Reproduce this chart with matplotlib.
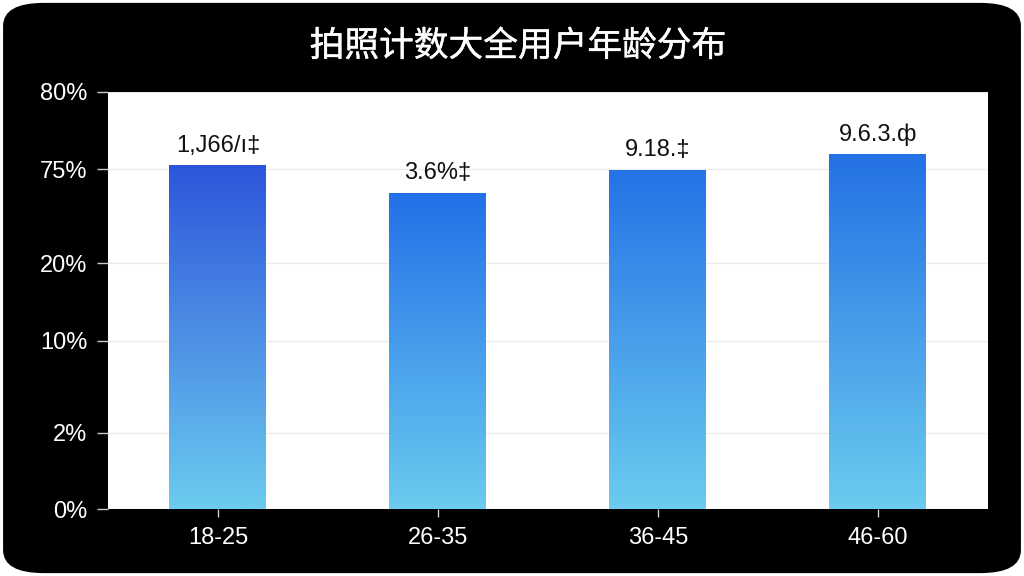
import numpy as np
import matplotlib
matplotlib.use('Agg')
import matplotlib.pyplot as plt
from matplotlib.colors import LinearSegmentedColormap
from matplotlib.patches import FancyBboxPatch
import matplotlib.patheffects as pe
import matplotlib.transforms as mtransforms

plt.rcParams['font.family'] = ['Noto Sans CJK SC', 'DejaVu Sans']

# ---- data ----
title = '拍照计数大全用户年龄分布'
age_groups = ['18-25', '26-35', '36-45', '46-60']
share_pct = [75.3, 61.6, 75.0, 76.0]
bar_labels = ['1,J66/ı‡', '3.6%‡', '9.18.‡', '9.6.3.ф']

# the y axis is not linear: tick values and where they sit (0..80 visual units)
tick_values = [0, 2, 10, 20, 75, 80]
tick_places = [0, 14.6, 32.3, 47.1, 65.2, 80]
tick_text = ['0%', '2%', '10%', '20%', '75%', '80%']

top_colors = ['#2d55db', '#2270e8', '#2472e6', '#2470e4']
bottom_color = '#6ccbef'

num_font = ['Liberation Sans', 'DejaVu Sans']


def forward(v):
    return np.interp(v, tick_values, tick_places)


def inverse(p):
    return np.interp(p, tick_places, tick_values)


fig = plt.figure(figsize=(10.24, 5.76), dpi=100)
fig.patch.set_facecolor('white')

# black panel with rounded corners (behind the axes)
panel = FancyBboxPatch((0.003, 0.005), 0.994, 0.99,
                       boxstyle='round,pad=0,rounding_size=0.04',
                       transform=fig.transFigure, facecolor='black',
                       edgecolor='none', zorder=-10)
fig.patches.append(panel)

ax = fig.add_axes([108 / 1024, 1 - 509 / 576, 880 / 1024, 417 / 576])
ax.set_zorder(1)
ax.set_facecolor('white')
ax.set_yscale('function', functions=(forward, inverse))
ax.set_ylim(0, 80)
ax.set_xlim(-0.5, 3.5)

x = np.arange(len(age_groups))
width = 0.445
bars = ax.bar(x, share_pct, width=width, color='none', zorder=2)

# gradient fill for every bar
blend = mtransforms.blended_transform_factory(ax.transData, ax.transAxes)
grad = np.linspace(0, 1, 256).reshape(-1, 1)
label_shift = mtransforms.ScaledTranslation(0, 8 / 100, fig.dpi_scale_trans)
for i, b in enumerate(bars):
    top_ax = ax.transAxes.inverted().transform(
        ax.transData.transform((0, share_pct[i])))[1]
    cmap = LinearSegmentedColormap.from_list('g%d' % i, [bottom_color, top_colors[i]])
    im = ax.imshow(grad, cmap=cmap, aspect='auto', origin='lower',
                   extent=(x[i] - width / 2, x[i] + width / 2, 0, top_ax),
                   transform=blend, zorder=2)
    im.set_clip_path(b)
    ax.text(x[i], share_pct[i], bar_labels[i],
            transform=ax.transData + label_shift,
            ha='center', va='bottom', fontsize=17, color='#111111',
            family=num_font)

ax.set_xlim(-0.5, 3.5)
ax.set_ylim(0, 80)

ax.set_yticks(tick_values)
ax.set_yticklabels(tick_text)
ax.set_xticks(x)
ax.set_xticklabels(age_groups)
ax.tick_params(axis='y', colors='#cccccc', labelcolor='white', labelsize=17,
               length=8, width=1, pad=7)
ax.tick_params(axis='x', colors='#cccccc', labelcolor='white', labelsize=17,
               length=6, width=1, pad=7)
for lab in ax.get_xticklabels() + ax.get_yticklabels():
    lab.set_family(num_font)

ax.grid(axis='y', color='#ececec', linewidth=1, zorder=0)
ax.set_axisbelow(True)
for s in ax.spines.values():
    s.set_visible(False)

fig.text(0.506, 0.919, title, ha='center', va='center', color='white',
         fontsize=25, fontweight='normal',
         path_effects=[pe.withStroke(linewidth=0.3, foreground='white')])

fig.savefig('out.png', dpi=100, facecolor=fig.get_facecolor())
